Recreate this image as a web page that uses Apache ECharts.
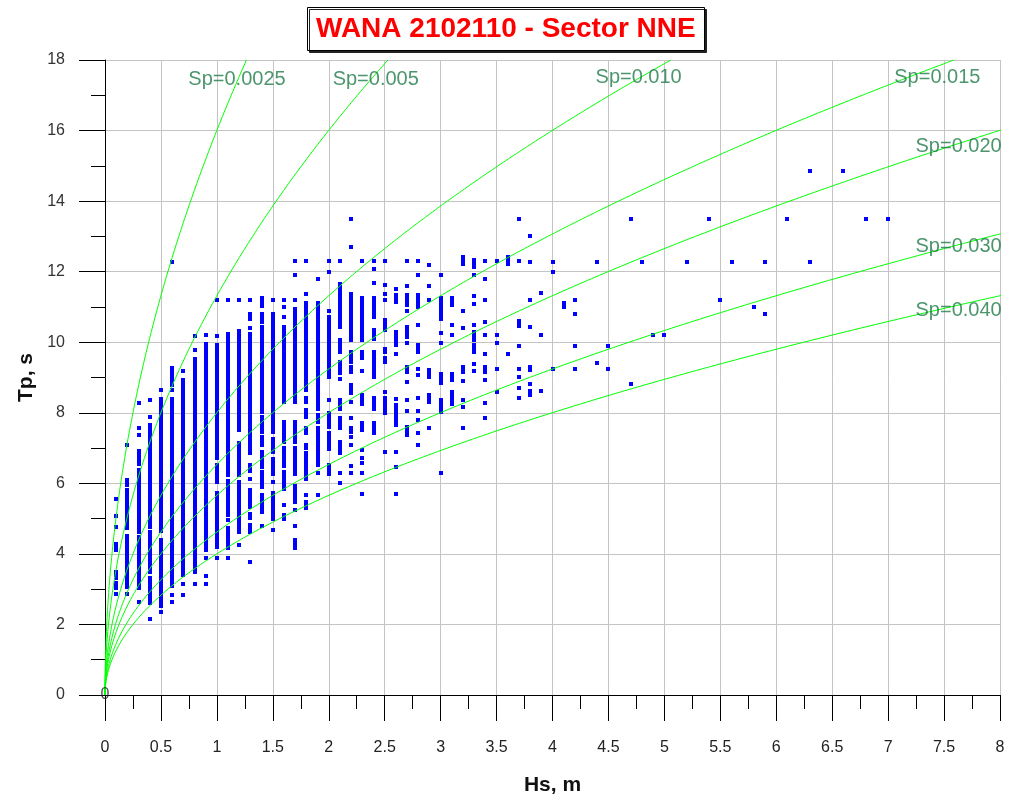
<!DOCTYPE html>
<html>
<head>
<meta charset="utf-8">
<title>WANA 2102110 - Sector NNE</title>
<script src="https://cdn.jsdelivr.net/npm/echarts@6/dist/echarts.min.js"></script>
<style>
  html, body { margin: 0; padding: 0; background: #fff; }
  #chart { width: 1009px; height: 801px; }
</style>
</head>
<body>
<div id="chart"></div>
<script>
// Wave steepness reference curves (Sp = 2*pi*Hs / (g*Tp^2))
const steepness = [0.0025, 0.005, 0.010, 0.015, 0.020, 0.030, 0.040];
const steepnessLabels = ['Sp=0.0025', 'Sp=0.005', 'Sp=0.010', 'Sp=0.015', 'Sp=0.020', 'Sp=0.030', 'Sp=0.040'];

// Hs/Tp occurrences, one entry per Hs bin: list of Tp runs [low, high] (single value = one record)
const hsLow = [0.1, 0.2, 0.3, 0.4, 0.5, 0.6, 0.7, 0.8, 0.9, 1.0];
const tpLow = [
  [[5.56],[5.08],[4.77],[4.11,4.27],[3.31,3.5],[3.03,3.17],[2.86]],
  [[7.08],[5.96,6.1],[4.74,5.82],[3.05,4.51],[2.86]],
  [[8.28],[7.58],[7.37],[6.54,6.92],[4.63,6.38],[3.69,4.49],[3.41,3.59],[3.03,3.33],[2.65]],
  [[8.36],[7.87],[4.77,7.65],[3.5,4.63],[2.6,3.31],[2.15]],
  [[8.64],[4.77,8.39],[4.65],[2.51,4.4],[2.35]],
  [[12.27],[8.78,9.27],[8.64],[3.08,8.4],[2.84],[2.65]],
  [[9.18],[6.66,8.92],[5.1,6.54],[3.41,4.99],[3.14],[2.84]],
  [[10.17],[9.78],[3.5,9.52],[3.14]],
  [[10.2],[7.2,9.95],[4.1,7.1],[3.87],[3.36],[3.14]],
  [[11.19],[10.17],[6.71,9.92],[6.14,6.52],[6.03],[4.82,5.72],[4.2,4.7],[3.88]]
];

const hsMid = [1.1, 1.2, 1.3, 1.4, 1.5, 1.6, 1.7, 1.8, 1.9, 2.0, 2.1];
const tpMid = [
  [[11.19],[6.24,10.22],[5.1,6.07],[4.96],[4.73],[4.16,4.63],[3.88]],
  [[11.19],[7.5,10.31],[6.24,7.13],[4.63,6.05],[4.25]],
  [[11.19],[10.67,10.8],[10.4],[7.18,10.22],[6.85,7.08],[6.36,6.53],[6.12],[5.34,5.81],[5.03,5.12],[4.63,4.82],[3.76]],
  [[11.03,11.24],[10.58,10.81],[8.03,10.43],[7.46,7.89],[7.08,7.32],[6.45,6.88],[6.17,6.31],[5.89,6.08],[5.2,5.66],[4.78]],
  [[11.19],[7.96,10.81],[7.46,7.84],[6.88,7.27],[6.26,6.7],[6.03],[5.3,5.72],[5.0,5.2],[4.68]],
  [[11.19],[11.0],[10.72],[8.31,10.43],[7.18,7.75],[6.74,6.99],[6.5,6.69],[5.85,6.31],[5.4],[5.0,5.1]],
  [[12.29],[11.9],[11.19],[8.97,10.93],[8.31,8.83],[7.18,7.75],[6.67,6.99],[6.26,6.55],[5.48,5.92],[5.24],[4.78],[4.16,4.4]],
  [[12.29],[11.37],[8.83,11.1],[8.64,8.74],[8.31,8.41],[7.89,8.07],[7.42,7.56],[7.01,7.1],[6.5,6.86],[6.12,6.48],[5.68],[5.3,5.48]],
  [[11.8],[8.12,11.1],[7.75,7.93],[6.52,7.56],[6.28],[5.68]],
  [[12.29],[11.99],[10.88],[9.02,10.72],[8.36],[7.6,7.98],[6.97,7.42],[6.26,6.52]],
  [[12.29],[10.43,11.64],[9.73,10.05],[9.12,9.44],[8.97],[8.12,8.36],[7.56,7.84],[6.86,7.18],[6.28],[6.0]]
];

const hsHigh = [2.2, 2.3, 2.4, 2.5, 2.6, 2.7, 2.8, 2.9, 3.0, 3.1, 3.2, 3.3, 3.4, 3.5, 3.6, 3.7];
const tpHigh = [
  [[13.48],[12.7],[11.0,11.38],[10.06,10.91],[9.44,9.73],[9.16,9.3],[8.55,8.78],[8.31],[7.86],[7.46,7.56],[7.32],[7.08],[6.5],[6.28]],
  [[12.29],[10.06,11.24],[9.54,9.73],[9.18],[8.26,8.5],[7.5,7.7],[6.94],[6.73],[6.57],[6.28],[5.69]],
  [[12.29],[12.08],[11.68],[10.72,11.24],[10.1,10.34],[9.3,9.73],[9.02,9.2],[8.12,8.41],[7.42,7.7]],
  [[12.29],[11.61],[11.38],[11.2],[10.34,10.62],[9.73,9.82],[9.44,9.54],[8.6],[8.12,8.41],[7.98],[6.88]],
  [[11.52],[11.14,11.33],[9.92,10.29],[9.68],[8.39],[7.65,8.22],[6.88],[6.47],[5.69]],
  [[12.29],[11.59],[11.05,11.33],[10.88],[10.15,10.43],[9.98],[9.16,9.3],[8.88],[8.35],[8.05],[7.37,7.6]],
  [[12.29],[11.9],[11.09,11.33],[11.0],[10.48],[9.73,9.92],[9.25],[9.07],[8.41],[8.05],[7.79],[7.42],[7.08]],
  [[12.2],[11.59],[11.19],[9.02,9.2],[8.31,8.5],[7.58]],
  [[11.9],[10.67,11.24],[10.27],[9.98],[8.83,9.11],[8.03,8.36],[6.28]],
  [[11.05,11.24],[10.48],[10.2],[8.92,9.11],[8.26,8.6]],
  [[12.23,12.42],[10.88],[10.39],[9.16,9.3],[8.9],[8.36],[8.17],[7.58]],
  [[12.13,12.32],[11.9],[11.3],[11.07],[10.48],[10.06,10.29],[9.73,9.92],[9.37],[9.18]],
  [[12.29],[11.8],[11.19],[10.58],[10.2],[9.68],[9.16,9.3],[8.92],[8.28],[7.86]],
  [[12.29],[10.2],[9.99],[9.25],[8.58]],
  [[12.23,12.42],[9.68]],
  [[13.48],[12.29],[10.47,10.6],[9.9],[9.23],[9.02],[8.71],[8.41]]
];

const hsStorm = [3.8, 3.9, 4.0, 4.1, 4.2, 4.4, 4.5, 4.7, 4.8, 4.9, 5.0, 5.2, 5.4, 5.5, 5.6, 5.8, 5.9, 6.1, 6.3, 6.6, 6.8, 7.0];
const tpStorm = [
  [[13.0],[12.28],[11.2],[10.42],[9.2,9.3],[8.82],[8.51,8.63]],
  [[11.39],[10.2],[8.63]],
  [[12.28],[11.98],[9.23]],
  [[11.0,11.1]],
  [[11.2],[10.79],[9.9],[9.23]],
  [[12.28],[9.41]],
  [[9.9],[9.23]],
  [[13.48],[8.82]],
  [[12.28]],
  [[10.2]],
  [[10.2]],
  [[12.28]],
  [[13.48]],
  [[11.2]],
  [[12.28]],
  [[11.01]],
  [[12.28],[10.79]],
  [[13.48]],
  [[14.85],[12.28]],
  [[14.85]],
  [[13.48]],
  [[13.48]]
];

const xTicks = { min: 0, max: 8, step: 0.5 };
const yTicks = { min: 0, max: 18, step: 2 };

// Build [hs, tpLow, tpHigh] items for the custom series
function runsOf(hsList, tpList) {
  const out = [];
  hsList.forEach((hs, i) => {
    tpList[i].forEach(r => out.push([hs, r[0], r.length > 1 ? r[1] : r[0]]));
  });
  return out;
}
const records = [].concat(
  runsOf(hsLow, tpLow), runsOf(hsMid, tpMid),
  runsOf(hsHigh, tpHigh), runsOf(hsStorm, tpStorm)
);

// Deep-water steepness curve Hs(Tp) for a given Sp
const G = 9.81;
function steepnessCurve(sp) {
  const pts = [];
  for (let i = 0; i <= 360; i++) {
    const tp = i * 0.05;
    pts.push([sp * G * tp * tp / (2 * Math.PI), tp]);
  }
  return pts;
}

// Where each curve caption sits, in Hs/Tp units
const labelAnchors = [
  [1.18, 17.45], [2.42, 17.45], [4.77, 17.5], [7.44, 17.5],
  [7.63, 15.55], [7.63, 12.7], [7.63, 10.9]
];

const FONT = 'Liberation Sans, Arial, sans-serif';
const chart = echarts.init(document.getElementById('chart'), null, { renderer: 'canvas' });

const curveSeries = steepness.map((sp, i) => ({
  name: steepnessLabels[i],
  type: 'line',
  data: steepnessCurve(sp),
  showSymbol: false,
  symbol: 'none',
  clip: true,
  silent: true,
  z: 3,
  lineStyle: { color: '#00ff00', width: 1 }
}));

chart.setOption({
  animation: false,
  backgroundColor: '#ffffff',
  title: {
    text: 'WANA 2102110 - Sector NNE',
    left: 307,
    top: 7,
    padding: [5, 9, 5, 9],
    backgroundColor: '#ffffff',
    borderColor: '#000000',
    borderWidth: 1,
    shadowColor: '#222222',
    shadowBlur: 0,
    shadowOffsetX: 2,
    shadowOffsetY: 2,
    textStyle: {
      color: '#ff0000',
      fontFamily: FONT,
      fontWeight: 'bold',
      fontSize: 28,
      lineHeight: 34
    }
  },
  grid: { left: 105, right: 9, top: 60, bottom: 103, containLabel: false },
  xAxis: {
    type: 'value',
    min: xTicks.min, max: xTicks.max, interval: xTicks.step,
    name: 'Hs, m',
    nameLocation: 'middle',
    nameGap: 80,
    nameTextStyle: { fontFamily: FONT, fontWeight: 'bold', fontSize: 21, color: '#111' },
    axisLine: { show: true, onZero: false, lineStyle: { color: '#000', width: 1 } },
    axisTick: { show: true, length: 26, lineStyle: { color: '#000' } },
    minorTick: { show: true, splitNumber: 2, length: 14, lineStyle: { color: '#000' } },
    axisLabel: { margin: 45, fontFamily: FONT, fontSize: 16, color: '#222' },
    splitLine: { show: true, lineStyle: { color: '#c4c4c4', width: 1 } }
  },
  yAxis: {
    type: 'value',
    min: yTicks.min, max: yTicks.max, interval: yTicks.step,
    name: 'Tp, s',
    nameLocation: 'middle',
    nameGap: 66,
    nameTextStyle: { fontFamily: FONT, fontWeight: 'bold', fontSize: 21, color: '#111' },
    axisLine: { show: true, onZero: false, lineStyle: { color: '#000', width: 1 } },
    axisTick: { show: true, length: 26, lineStyle: { color: '#000' } },
    minorTick: { show: true, splitNumber: 2, length: 14, lineStyle: { color: '#000' } },
    axisLabel: { margin: 40, fontFamily: FONT, fontSize: 16, color: '#333' },
    splitLine: { show: true, lineStyle: { color: '#c4c4c4', width: 1 } }
  },
  series: [
    {
      name: 'Hs-Tp',
      type: 'custom',
      data: records,
      encode: { x: 0, y: [1, 2] },
      clip: true,
      z: 2,
      renderItem: function (params, api) {
        const hs = api.value(0);
        const top = api.coord([hs, api.value(2)]);
        const bottom = api.coord([hs, api.value(1)]);
        const x = Math.round(top[0]) - 2;
        const y = Math.round(top[1]) - 2;
        return {
          type: 'rect',
          shape: { x: x, y: y, width: 4, height: Math.round(bottom[1]) - Math.round(top[1]) + 4 },
          style: { fill: '#0000ff' }
        };
      }
    }
  ].concat(curveSeries, [
    {
      name: 'captions',
      type: 'scatter',
      symbolSize: 0,
      silent: true,
      z: 4,
      data: labelAnchors.map((p, i) => ({ value: p, name: steepnessLabels[i] })),
      label: {
        show: true,
        position: 'inside',
        formatter: p => p.name,
        fontFamily: FONT,
        fontSize: 20,
        color: '#1f7a48'
      }
    },
    {
      name: 'origin',
      type: 'scatter',
      symbolSize: 0,
      silent: true,
      z: 4,
      data: [[0, 0]],
      label: {
        show: true,
        position: 'inside',
        formatter: '0',
        fontFamily: FONT,
        fontSize: 16,
        color: '#222'
      }
    }
  ])
});
</script>
</body>
</html>
